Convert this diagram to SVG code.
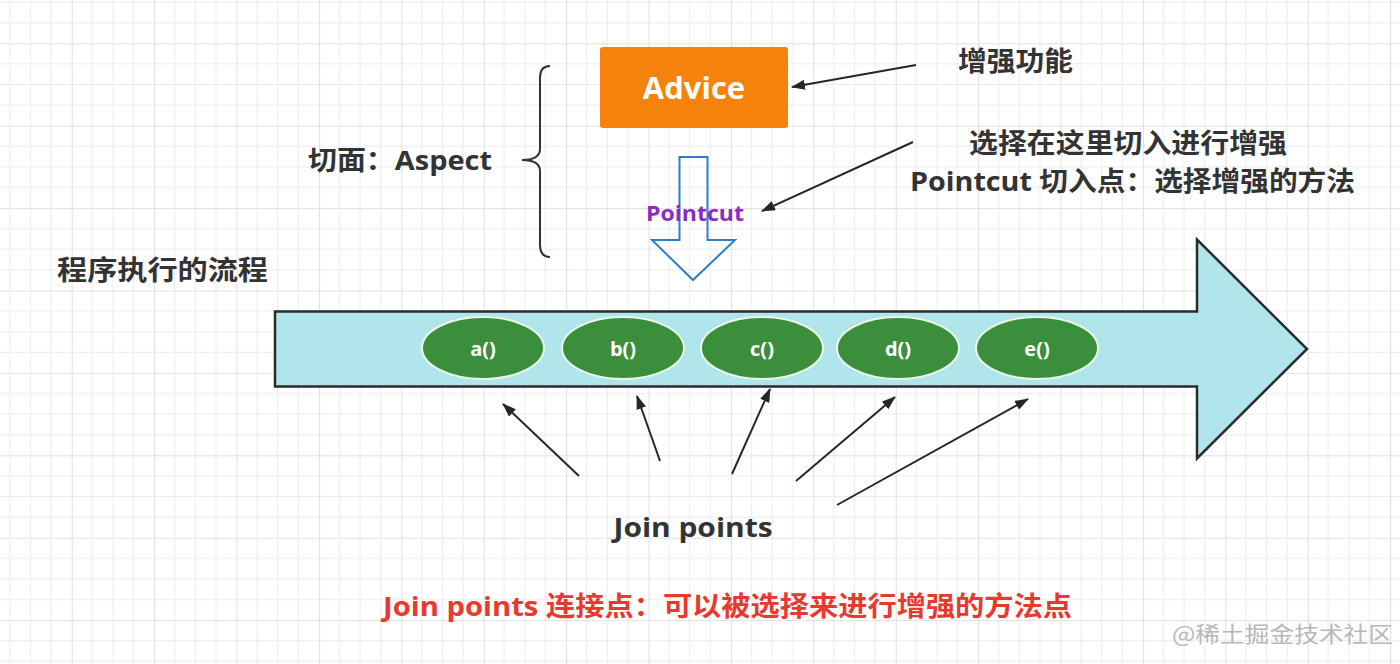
<svg xmlns="http://www.w3.org/2000/svg" width="1400" height="664" viewBox="0 0 1400 664">
  <defs>
    <pattern id="grid" x="-10.7" y="-39.1" width="82.4" height="82.4" patternUnits="userSpaceOnUse">
      <path d="M20.6,0V82.4M41.2,0V82.4M61.8,0V82.4M0,20.6H82.4M0,41.2H82.4M0,61.8H82.4" stroke="#ececec" stroke-width="1" fill="none"/>
      <path d="M0.5,0V82.4M0,0.5H82.4" stroke="#e0e0e0" stroke-width="1.2" fill="none"/>
    </pattern>
    <marker id="ah" viewBox="0 0 14 10" refX="13" refY="5" markerWidth="14" markerHeight="10" markerUnits="userSpaceOnUse" orient="auto">
      <path d="M0,0 L14,5 L0,10 Z" fill="#262626"/>
    </marker>
    <style>
      .t { font-family: "Open Sans", "Noto Sans CJK SC", sans-serif; font-weight: bold; fill: #333333; }
      .c { stroke: #262626; stroke-width: 2; fill: none; marker-end: url(#ah); }
      .ell { fill: #3a8e3c; stroke: #eaf7e6; stroke-width: 2; }
      .et { font-family: "Open Sans", "Noto Sans CJK SC", sans-serif; font-weight: bold; font-size: 20px; fill: #ffffff; text-anchor: middle; }
    </style>
  </defs>
  <rect x="0" y="0" width="1400" height="664" fill="#ffffff"/>
  <rect x="0" y="0" width="1400" height="664" fill="url(#grid)"/>

  <g id="flow">
    <polygon points="275,311.5 1197,311.5 1197,239.5 1307,349 1197,458.5 1197,386.5 275,386.5" fill="#b1e5ec" stroke="#2b2b2b" stroke-width="2.5"/>
  </g>

  <g id="advice">
    <rect x="600" y="47" width="188" height="81" rx="3" fill="#f5820b"/>
    <text x="694" y="99" font-family="Open Sans, Noto Sans CJK SC, sans-serif" font-weight="bold" font-size="31" fill="#ffffff" text-anchor="middle">Advice</text>
  </g>

  <g id="aspect-brace">
    <path d="M550,66 Q540,66 540,78 L540,149 Q540,160 522,160 Q540,160 540,171 L540,245 Q540,257 550,257" fill="none" stroke="#333333" stroke-width="2"/>
  </g>

  <g id="aspect-label">
    <text class="t" x="308" y="170" font-size="27" textLength="184" lengthAdjust="spacingAndGlyphs">切面：Aspect</text>
  </g>

  <g id="pointcut">
    <polygon points="679.5,157 707.5,157 707.5,240 735,240 693,280 652,240 679.5,240" fill="none" stroke="#2f7dc6" stroke-width="2"/>
    <text x="695" y="221" font-family="Open Sans, Noto Sans CJK SC, sans-serif" font-weight="bold" font-size="21" fill="#8a2bc6" text-anchor="middle" textLength="98" lengthAdjust="spacingAndGlyphs">Pointcut</text>
  </g>

  <g id="label-enhance">
    <text class="t" x="958" y="71" font-size="27" textLength="115" lengthAdjust="spacingAndGlyphs">增强功能</text>
  </g>
  <g id="label-choose">
    <text class="t" x="969" y="153" font-size="27" textLength="318" lengthAdjust="spacingAndGlyphs">选择在这里切入进行增强</text>
    <text class="t" x="910" y="191" font-size="27" textLength="445" lengthAdjust="spacingAndGlyphs">Pointcut 切入点：选择增强的方法</text>
  </g>
  <g id="label-flow">
    <text class="t" x="57" y="280" font-size="27" textLength="211" lengthAdjust="spacingAndGlyphs">程序执行的流程</text>
  </g>

  <g id="methods">
    <g id="m-a"><ellipse class="ell" cx="483" cy="348" rx="61" ry="31"/><text class="et" x="483" y="356">a()</text></g>
    <g id="m-b"><ellipse class="ell" cx="623" cy="348" rx="61" ry="31"/><text class="et" x="623" y="356">b()</text></g>
    <g id="m-c"><ellipse class="ell" cx="762" cy="348" rx="61" ry="31"/><text class="et" x="762" y="356">c()</text></g>
    <g id="m-d"><ellipse class="ell" cx="898" cy="348" rx="61" ry="31"/><text class="et" x="898" y="356">d()</text></g>
    <g id="m-e"><ellipse class="ell" cx="1037" cy="348" rx="61" ry="31"/><text class="et" x="1037" y="356">e()</text></g>
  </g>

  <g id="joinpoints-label">
    <text class="t" x="693" y="537" font-size="27" text-anchor="middle" textLength="159" lengthAdjust="spacingAndGlyphs">Join points</text>
  </g>

  <g id="note">
    <text class="t" x="383" y="616" font-size="27" style="fill:#e8392f" textLength="689" lengthAdjust="spacingAndGlyphs">Join points 连接点：可以被选择来进行增强的方法点</text>
  </g>

  <g id="watermark">
    <text x="1393" y="642" font-family="Noto Sans CJK SC, sans-serif" font-size="22" fill="#b8b8b8" text-anchor="end" textLength="221" lengthAdjust="spacingAndGlyphs">@稀土掘金技术社区</text>
  </g>

  <g id="connectors">
    <line class="c" x1="916" y1="65" x2="792" y2="87"/>
    <line class="c" x1="913" y1="142" x2="762" y2="211"/>
    <line class="c" x1="579" y1="476" x2="503" y2="404"/>
    <line class="c" x1="660" y1="461" x2="637" y2="396"/>
    <line class="c" x1="732" y1="474" x2="770" y2="389"/>
    <line class="c" x1="796" y1="481" x2="895" y2="397"/>
    <line class="c" x1="837" y1="505" x2="1028" y2="399"/>
  </g>
</svg>
